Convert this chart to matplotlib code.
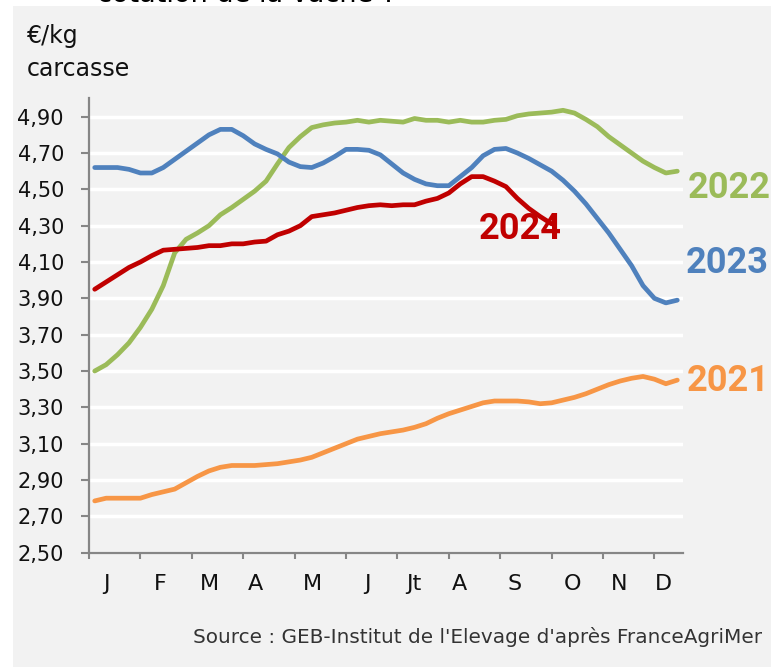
import numpy as np
import matplotlib
matplotlib.use("Agg")
import matplotlib.pyplot as plt
from matplotlib.patches import Rectangle

# Weekly carcass prices (€/kg), weeks 1..52
prix_2021 = [2.785, 2.80, 2.80, 2.80, 2.80, 2.82, 2.835, 2.85, 2.885, 2.92,
             2.95, 2.97, 2.98, 2.98, 2.98, 2.985, 2.99, 3.00, 3.01, 3.025,
             3.05, 3.075, 3.10, 3.125, 3.14, 3.155, 3.165, 3.175, 3.19, 3.21,
             3.24, 3.265, 3.285, 3.305, 3.325, 3.335, 3.335, 3.335, 3.33, 3.32,
             3.325, 3.34, 3.355, 3.375, 3.40, 3.425, 3.445, 3.46, 3.47, 3.455,
             3.43, 3.45]
prix_2022 = [3.50, 3.535, 3.59, 3.655, 3.74, 3.84, 3.97, 4.15, 4.225, 4.26,
             4.30, 4.36, 4.40, 4.445, 4.49, 4.545, 4.64, 4.73, 4.79, 4.84,
             4.855, 4.865, 4.87, 4.88, 4.87, 4.88, 4.875, 4.87, 4.89, 4.88,
             4.88, 4.87, 4.88, 4.87, 4.87, 4.88, 4.885, 4.905, 4.915, 4.92,
             4.925, 4.935, 4.92, 4.885, 4.845, 4.79, 4.745, 4.70, 4.655, 4.62,
             4.59, 4.60]
prix_2023 = [4.62, 4.62, 4.62, 4.61, 4.59, 4.59, 4.62, 4.665, 4.71, 4.755,
             4.80, 4.83, 4.83, 4.795, 4.75, 4.72, 4.695, 4.65, 4.625, 4.62,
             4.645, 4.68, 4.72, 4.72, 4.715, 4.69, 4.64, 4.59, 4.555, 4.53,
             4.52, 4.52, 4.57, 4.62, 4.685, 4.72, 4.725, 4.70, 4.67, 4.635,
             4.60, 4.55, 4.49, 4.42, 4.34, 4.26, 4.17, 4.08, 3.97, 3.90,
             3.875, 3.89]
prix_2024 = [3.95, 3.99, 4.03, 4.07, 4.10, 4.135, 4.165, 4.17, 4.175, 4.18,
             4.19, 4.19, 4.20, 4.20, 4.21, 4.215, 4.25, 4.27, 4.30, 4.35,
             4.36, 4.37, 4.385, 4.40, 4.41, 4.415, 4.41, 4.415, 4.415, 4.435,
             4.45, 4.48, 4.53, 4.57, 4.57, 4.545, 4.515, 4.45, 4.395, 4.35,
             4.31]

annees = ["2021", "2022", "2023", "2024"]
couleurs = ["#F79646", "#9BBB59", "#4F81BD", "#C00000"]
series = [prix_2021, prix_2022, prix_2023, prix_2024]

mois = ["J", "F", "M", "A", "M", "J", "Jt", "A", "S", "O", "N", "D"]
pos_mois = [2.03, 6.76, 11.06, 15.1, 20.09, 24.89, 28.92, 32.95, 37.75, 42.82, 46.89, 50.82]

y_ticks = np.round(np.arange(2.5, 4.91, 0.2), 2)

FOND = "#F2F2F2"
GRIS = "#868686"
TEXTE = "#111111"
POLICE = "DejaVu Sans"
W, H = 771, 667

fig = plt.figure(figsize=(W / 100, H / 100), dpi=100, facecolor="white")
fig.patches.append(Rectangle((13 / W, 0), 1, 1 - 6 / H, transform=fig.transFigure,
                             facecolor=FOND, edgecolor="none", zorder=-10))

# Title, mostly above the visible area
fig.text(97 / W, 1 - 1.5 / H, "cotation de la vache ?", fontsize=19.5, family=POLICE,
         color="black", ha="left", va="baseline")

ax = fig.add_axes([89 / W, 1 - 552.7 / H, (683 - 89) / W, (552.7 - 98.5) / H])
ax.set_facecolor(FOND)
ax.set_xlim(0.5, 52.5)
ax.set_ylim(2.5, 5.0)

for annee, couleur, vals in zip(annees, couleurs, series):
    x = np.arange(1, len(vals) + 1)
    ax.plot(x, vals, color=couleur, lw=3.4, solid_capstyle="round",
            solid_joinstyle="round", zorder=3)

ax.set_yticks(y_ticks)
ax.set_yticklabels([f"{v:.2f}".replace(".", ",") for v in y_ticks])
ax.yaxis.grid(True, color="white", lw=2.5, zorder=1)
ax.set_axisbelow(True)

ax.set_xticks([0.5 + 4.5 * k for k in range(12)])
ax.set_xticklabels([])
ax.set_xticks(pos_mois, minor=True)
ax.set_xticklabels(mois, minor=True)

for s in ["top", "right"]:
    ax.spines[s].set_visible(False)
for s in ["left", "bottom"]:
    ax.spines[s].set_color(GRIS)
    ax.spines[s].set_linewidth(1.6)

ax.tick_params(axis="y", direction="out", length=6, width=1.5, color=GRIS,
               pad=12, labelsize=15, labelcolor=TEXTE)
ax.tick_params(axis="x", which="major", direction="out", length=4, width=1.5, color=GRIS)
ax.tick_params(axis="x", which="minor", length=0, pad=15, labelsize=16, labelcolor=TEXTE)
for lab in ax.get_yticklabels() + ax.get_xticklabels(minor=True):
    lab.set_family(POLICE)

# Year labels
etiquettes = {"2021": (52.85, 3.447), "2022": (52.95, 4.508),
              "2023": (52.75, 4.093), "2024": (34.6, 4.283)}
for annee, couleur in zip(annees, couleurs):
    xl, yl = etiquettes[annee]
    ax.text(xl, yl, annee, color=couleur, fontsize=26, family="Roboto",
            fontweight="bold", ha="left", va="center", clip_on=False, zorder=5)

fig.text(27 / W, 1 - 36 / H, "€/kg", fontsize=17, family=POLICE, color=TEXTE,
         ha="left", va="center")
fig.text(27 / W, 1 - 69 / H, "carcasse", fontsize=17, family=POLICE, color=TEXTE,
         ha="left", va="center")
fig.text(762 / W, 1 - 637 / H, "Source : GEB-Institut de l'Elevage d'après FranceAgriMer",
         fontsize=14.4, family=POLICE, color="#333333", ha="right", va="center")

fig.savefig("out.png", dpi=100, facecolor=fig.get_facecolor())
